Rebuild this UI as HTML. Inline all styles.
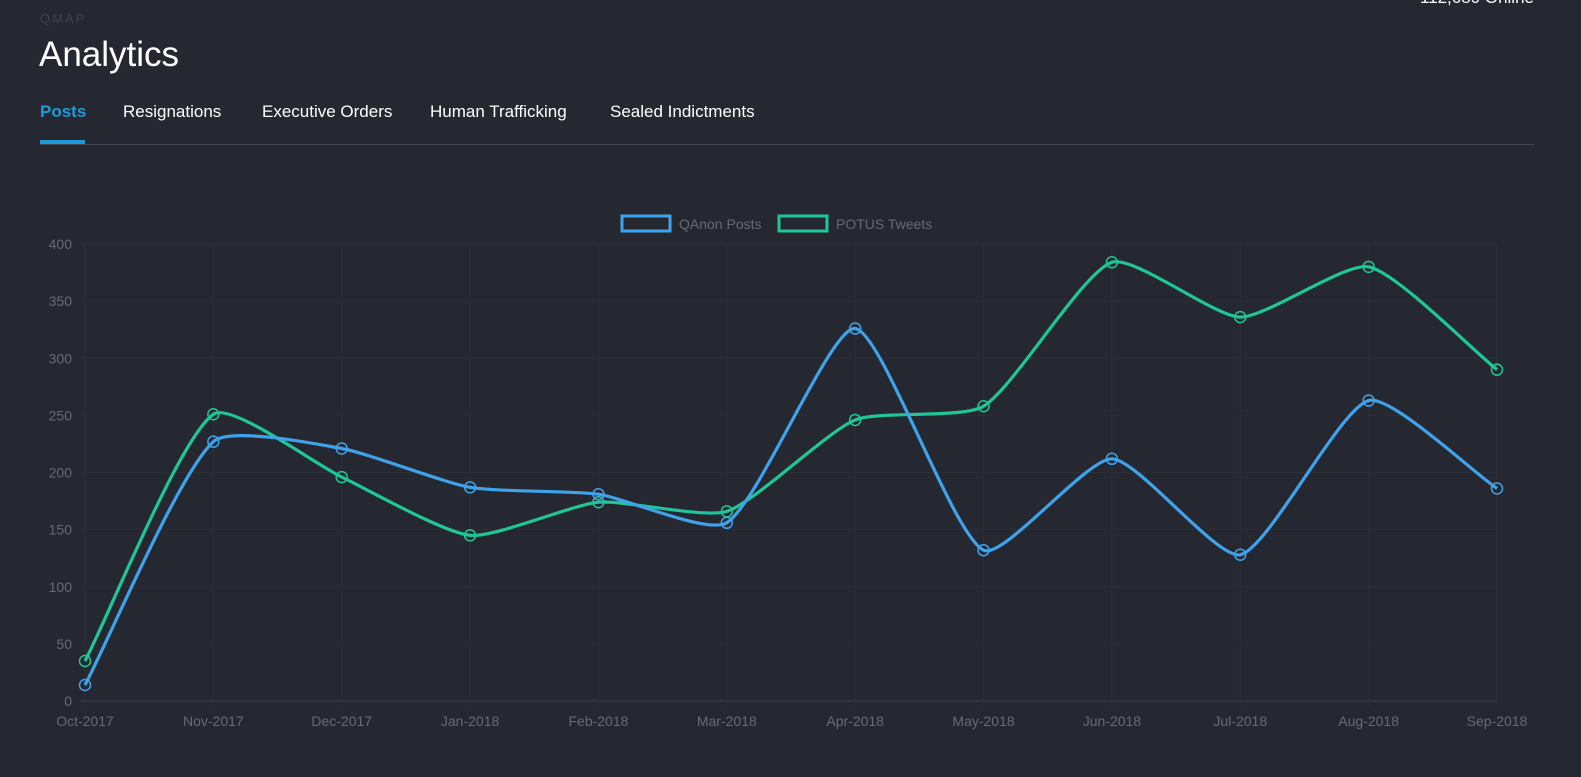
<!DOCTYPE html>
<html><head><meta charset="utf-8"><style>
html,body{margin:0;padding:0;background:#262831;width:1581px;height:777px;overflow:hidden;font-family:"Liberation Sans",sans-serif}
.t{position:absolute;white-space:nowrap}
</style></head><body>
<div class="t" style="left:40px;top:11px;font-size:13px;letter-spacing:2px;color:#3d414c">QMAP</div>
<div class="t" style="left:39px;top:35px;font-size:35px;color:#fff">Analytics</div>
<div class="t" style="right:47px;top:-12px;font-size:17px;color:#fff">112,680 Online</div>
<div class="t" style="left:40px;top:102px;font-size:17px;color:#1e9bd7;font-weight:bold">Posts</div>
<div class="t" style="left:123px;top:102px;font-size:17px;color:#fff">Resignations</div>
<div class="t" style="left:262px;top:102px;font-size:17px;color:#fff">Executive Orders</div>
<div class="t" style="left:430px;top:102px;font-size:17px;color:#fff">Human Trafficking</div>
<div class="t" style="left:610px;top:102px;font-size:17px;color:#fff">Sealed Indictments</div>
<div style="position:absolute;left:40px;top:144px;width:1494px;height:1px;background:#444854"></div>
<div style="position:absolute;left:40px;top:140px;width:45px;height:4px;background:#1e9bd7"></div>
<svg id="c" width="1581" height="777" style="position:absolute;left:0;top:0" font-family="Liberation Sans, sans-serif"></svg>
<script>
var s=document.getElementById('c'),h='';
var x0=85,st=1412/11,y0=701,k=457/400;
for(var v=0;v<=400;v+=50){var y=y0-v*k;h+='<line x1="80" x2="1497" y1="'+y+'" y2="'+y+'" stroke="'+(v==0?'#3a3d46':'#2c2f37')+'"/>';h+='<text x="72" y="'+(y+5)+'" text-anchor="end" font-size="14" fill="#666a73">'+v+'</text>';}
var L=['Oct-2017','Nov-2017','Dec-2017','Jan-2018','Feb-2018','Mar-2018','Apr-2018','May-2018','Jun-2018','Jul-2018','Aug-2018','Sep-2018'];
for(var i=0;i<12;i++){var x=x0+i*st;h+='<line x1="'+x+'" x2="'+x+'" y1="244" y2="706" stroke="#2c2f37"/>';h+='<text x="'+x+'" y="726" text-anchor="middle" font-size="14" fill="#666a73">'+L[i]+'</text>';}
function path(d,c){var p=d.map(function(v,i){return[x0+i*st,y0-v*k]});var str='M'+p[0][0]+' '+p[0][1];var t=0.2;
function cp(i){var a=p[Math.max(i-1,0)],b=p[i],n=p[Math.min(i+1,p.length-1)];var d01=Math.hypot(b[0]-a[0],b[1]-a[1]),d12=Math.hypot(n[0]-b[0],n[1]-b[1]);var fa=d01/(d01+d12)||0,fb=d12/(d01+d12)||0;fa*=t;fb*=t;return[[b[0]-fa*(n[0]-a[0]),b[1]-fa*(n[1]-a[1])],[b[0]+fb*(n[0]-a[0]),b[1]+fb*(n[1]-a[1])]];}
for(var i=1;i<p.length;i++){var c1=cp(i-1)[1],c2=cp(i)[0];str+=' C'+c1+' '+c2+' '+p[i];}
var o='<path d="'+str+'" fill="none" stroke="'+c+'" stroke-width="3.2"/>';p.forEach(function(q){o+='<circle cx="'+q[0]+'" cy="'+q[1]+'" r="5.5" fill="none" stroke="'+c+'" stroke-width="1.5"/>'});return o;}
h+=path([35,251,196,145,174,166,246,258,384,336,380,290],'#1fc69a');
h+=path([14,227,221,187,181,156,326,132,212,128,263,186],'#3fa3ec');
h+='<rect x="622" y="216" width="48" height="15" fill="none" stroke="#3fa3ec" stroke-width="3"/><text x="679" y="229" font-size="14" fill="#666a73">QAnon Posts</text>';
h+='<rect x="779" y="216" width="48" height="15" fill="none" stroke="#1fc69a" stroke-width="3"/><text x="836" y="229" font-size="14" fill="#666a73">POTUS Tweets</text>';
s.innerHTML=h;
</script>
</body></html>
